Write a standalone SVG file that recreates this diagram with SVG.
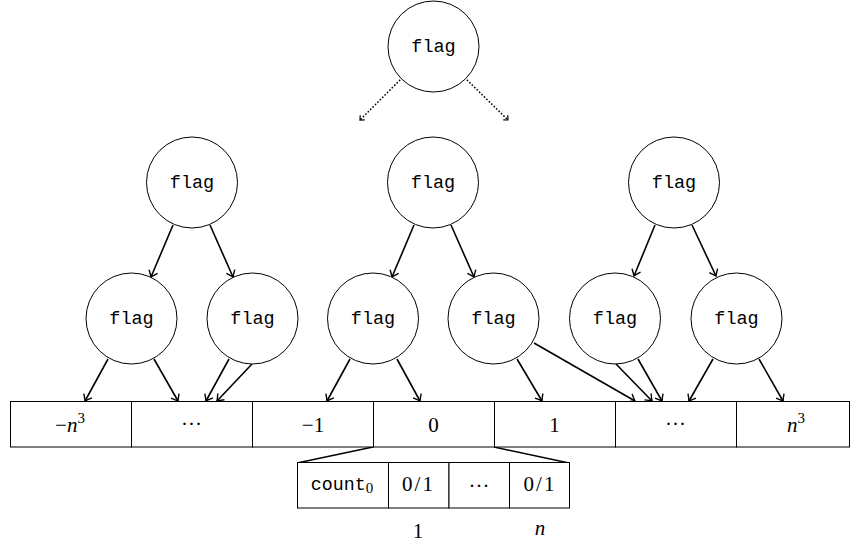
<svg xmlns="http://www.w3.org/2000/svg" width="850" height="542" viewBox="0 0 850 542">
<style>
.c{fill:#fff;stroke:#000;stroke-width:1}
.t{font-family:"Liberation Mono","DejaVu Sans Mono",monospace;font-size:18.5px;text-anchor:middle}
.m{font-family:"Liberation Serif","DejaVu Serif",serif;font-size:21px;text-anchor:middle}
.i{font-style:italic}
.cell{fill:#fff;stroke:#000;stroke-width:1}
.a{stroke:#000;stroke-width:1.6;fill:none;marker-end:url(#ah)}
.d{stroke:#000;stroke-width:1.7;fill:none;stroke-dasharray:0.1 3.3;stroke-linecap:round;marker-end:url(#dh)}
.s{stroke:#000;stroke-width:1.4;fill:none}
</style>
<defs>
<marker id="ah" viewBox="-8 -6 9 12" refX="0" refY="0" markerWidth="9" markerHeight="12" markerUnits="userSpaceOnUse" orient="auto">
<path d="M-6,-4.6 Q-2,-1.3 0,0 Q-2,1.3 -6,4.6" fill="none" stroke="#000" stroke-width="1.4"/>
</marker>
<marker id="dh" viewBox="-5 -4 6 8" refX="0" refY="0" markerWidth="6" markerHeight="8" markerUnits="userSpaceOnUse" orient="auto">
<path d="M-3.5,-3.2 L0,0 L-3.5,3.2" fill="none" stroke="#000" stroke-width="1.2"/>
</marker>
</defs>
<g id="connectors">
<line class="d" x1="402" y1="78" x2="360" y2="120"/>
<line class="d" x1="465" y1="78" x2="508" y2="120"/>
<line class="a" x1="173" y1="225" x2="151" y2="277"/>
<line class="a" x1="210" y1="225" x2="233" y2="277"/>
<line class="a" x1="414" y1="225" x2="392" y2="277"/>
<line class="a" x1="451" y1="225" x2="474" y2="277"/>
<line class="a" x1="655" y1="225" x2="634" y2="276"/>
<line class="a" x1="692" y1="225" x2="716" y2="276"/>
<line class="a" x1="108" y1="359" x2="85" y2="401"/>
<line class="a" x1="154" y1="359" x2="178" y2="401"/>
<line class="a" x1="229" y1="359" x2="206" y2="401"/>
<line class="a" x1="252" y1="364" x2="217" y2="401"/>
<line class="a" x1="350" y1="359" x2="327" y2="401"/>
<line class="a" x1="397" y1="359" x2="420" y2="401"/>
<line class="a" x1="517" y1="359" x2="542" y2="401"/>
<line class="a" x1="534" y1="343" x2="635" y2="401"/>
<line class="a" x1="616" y1="364" x2="652" y2="401"/>
<line class="a" x1="638" y1="359" x2="662" y2="401"/>
<line class="a" x1="713" y1="359" x2="689" y2="401"/>
<line class="a" x1="759" y1="359" x2="783" y2="401"/>
<line class="s" x1="373" y1="447" x2="297" y2="463"/>
<line class="s" x1="494" y1="447" x2="569" y2="463"/>
</g>
<g id="node-root"><circle class="c" cx="433.5" cy="46.5" r="45.5"/><text class="t" x="433.5" y="52">flag</text></g>
<g id="node-a"><circle class="c" cx="192" cy="182.5" r="45.5"/><text class="t" x="192" y="188">flag</text></g>
<g id="node-b"><circle class="c" cx="433" cy="182.5" r="45.5"/><text class="t" x="433" y="188">flag</text></g>
<g id="node-c"><circle class="c" cx="674" cy="182.5" r="45.5"/><text class="t" x="674" y="188">flag</text></g>
<g id="node-a1"><circle class="c" cx="131.5" cy="318.5" r="45.5"/><text class="t" x="131.5" y="324">flag</text></g>
<g id="node-a2"><circle class="c" cx="252.5" cy="318.5" r="45.5"/><text class="t" x="252.5" y="324">flag</text></g>
<g id="node-b1"><circle class="c" cx="373" cy="318.5" r="45.5"/><text class="t" x="373" y="324">flag</text></g>
<g id="node-b2"><circle class="c" cx="493.5" cy="318.5" r="45.5"/><text class="t" x="493.5" y="324">flag</text></g>
<g id="node-c1"><circle class="c" cx="615" cy="318.5" r="45.5"/><text class="t" x="615" y="324">flag</text></g>
<g id="node-c2"><circle class="c" cx="736.5" cy="318.5" r="45.5"/><text class="t" x="736.5" y="324">flag</text></g>
<g id="array">
<rect class="cell" x="10.5" y="401.5" width="121" height="45.5"/>
<rect class="cell" x="131.5" y="401.5" width="121" height="45.5"/>
<rect class="cell" x="252.5" y="401.5" width="121" height="45.5"/>
<rect class="cell" x="373.5" y="401.5" width="121" height="45.5"/>
<rect class="cell" x="494.5" y="401.5" width="121" height="45.5"/>
<rect class="cell" x="615.5" y="401.5" width="121" height="45.5"/>
<rect class="cell" x="736.5" y="401.5" width="113" height="45.5"/>
<text class="m" x="70" y="432">−<tspan class="i">n</tspan><tspan font-size="15" dy="-9">3</tspan></text>
<text class="m" x="191.5" y="431">···</text>
<text class="m" x="313" y="432">−1</text>
<text class="m" x="433.5" y="432">0</text>
<text class="m" x="554.5" y="432">1</text>
<text class="m" x="675.5" y="431">···</text>
<text class="m" x="796" y="432"><tspan class="i">n</tspan><tspan font-size="15" dy="-9">3</tspan></text>
</g>
<g id="subarray">
<rect class="cell" x="297.5" y="462.5" width="91" height="45.5"/>
<rect class="cell" x="388.5" y="462.5" width="60.5" height="45.5"/>
<rect class="cell" x="449" y="462.5" width="60.5" height="45.5"/>
<rect class="cell" x="509.5" y="462.5" width="60" height="45.5"/>
<text x="342" y="490" text-anchor="middle"><tspan font-family="Liberation Mono, DejaVu Sans Mono, monospace" font-size="18.3">count</tspan><tspan font-family="Liberation Serif, serif" font-size="15" dy="2.5">0</tspan></text>
<text class="m" x="418.5" y="491" letter-spacing="2">0/1</text>
<text class="m" x="479" y="493">···</text>
<text class="m" x="540" y="491" letter-spacing="2">0/1</text>
</g>
<g id="labels">
<text class="m" x="418" y="538">1</text>
<text class="m i" x="540" y="535">n</text>
</g>
</svg>
